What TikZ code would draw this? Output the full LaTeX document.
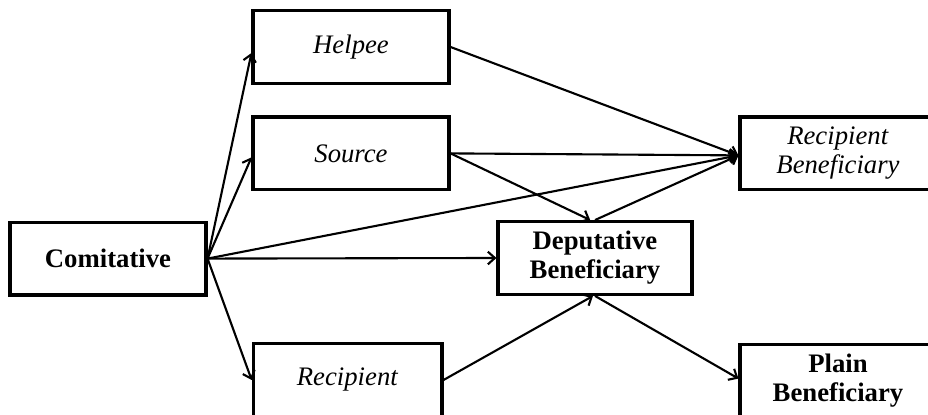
\documentclass[tikz,border=0pt]{standalone}
\usepackage{fontspec}
\setmainfont{Liberation Serif}
\usetikzlibrary{arrows.meta}

\begin{document}
\begin{tikzpicture}[
        box/.style={draw, line width=2.2pt, minimum width=4.9cm, minimum height=1.82cm,
            align=center, inner sep=0pt, font=\fontsize{19}{20.5}\selectfont},
        link/.style={-{Straight Barb[length=5pt,width=9pt]}, line width=1.5pt}
    ]
        \useasboundingbox (0,0) rectangle (23.2,10.375);
        \node[box] (comit) at (2.7,3.91) {\textbf{Comitative}};
        \node[box] (helpee) at (8.775,9.2) {\textit{Helpee}};
        \node[box] (source) at (8.775,6.54) {\textit{Source}};
        \node[box, minimum width=4.72cm] (recip) at (8.69,0.875) {\textit{Recipient}};
        \node[box, minimum width=4.85cm] (dep) at (14.875,3.925) {\textbf{Deputative}\\\textbf{Beneficiary}};
        \node[box] (rb) at (20.95,6.54) {\textit{Recipient}\\\textit{Beneficiary}};
        \node[box] (plain) at (20.95,0.86) {\textbf{Plain}\\\textbf{Beneficiary}};
        \draw[link] (comit.east) -- ([yshift=-0.15cm]helpee.west);
        \draw[link] (comit.east) -- ([yshift=-0.1cm]source.west);
        \draw[link] (comit.east) -- (recip.west);
        \draw[link] (comit.east) -- (dep.west);
        \draw[link] (comit.east) -- ([yshift=-0.05cm]rb.west);
        \draw[link] (helpee.east) -- ([yshift=-0.05cm]rb.west);
        \draw[link] (source.east) -- ([yshift=-0.05cm]rb.west);
        \draw[link] (source.east) -- ([xshift=-0.12cm]dep.north);
        \draw[link] (dep.north) -- ([yshift=-0.05cm]rb.west);
        \draw[link] (recip.east) -- ([xshift=-0.05cm]dep.south);
        \draw[link] (dep.south) -- ([yshift=0.05cm]plain.west);
    \end{tikzpicture}
\end{document}
